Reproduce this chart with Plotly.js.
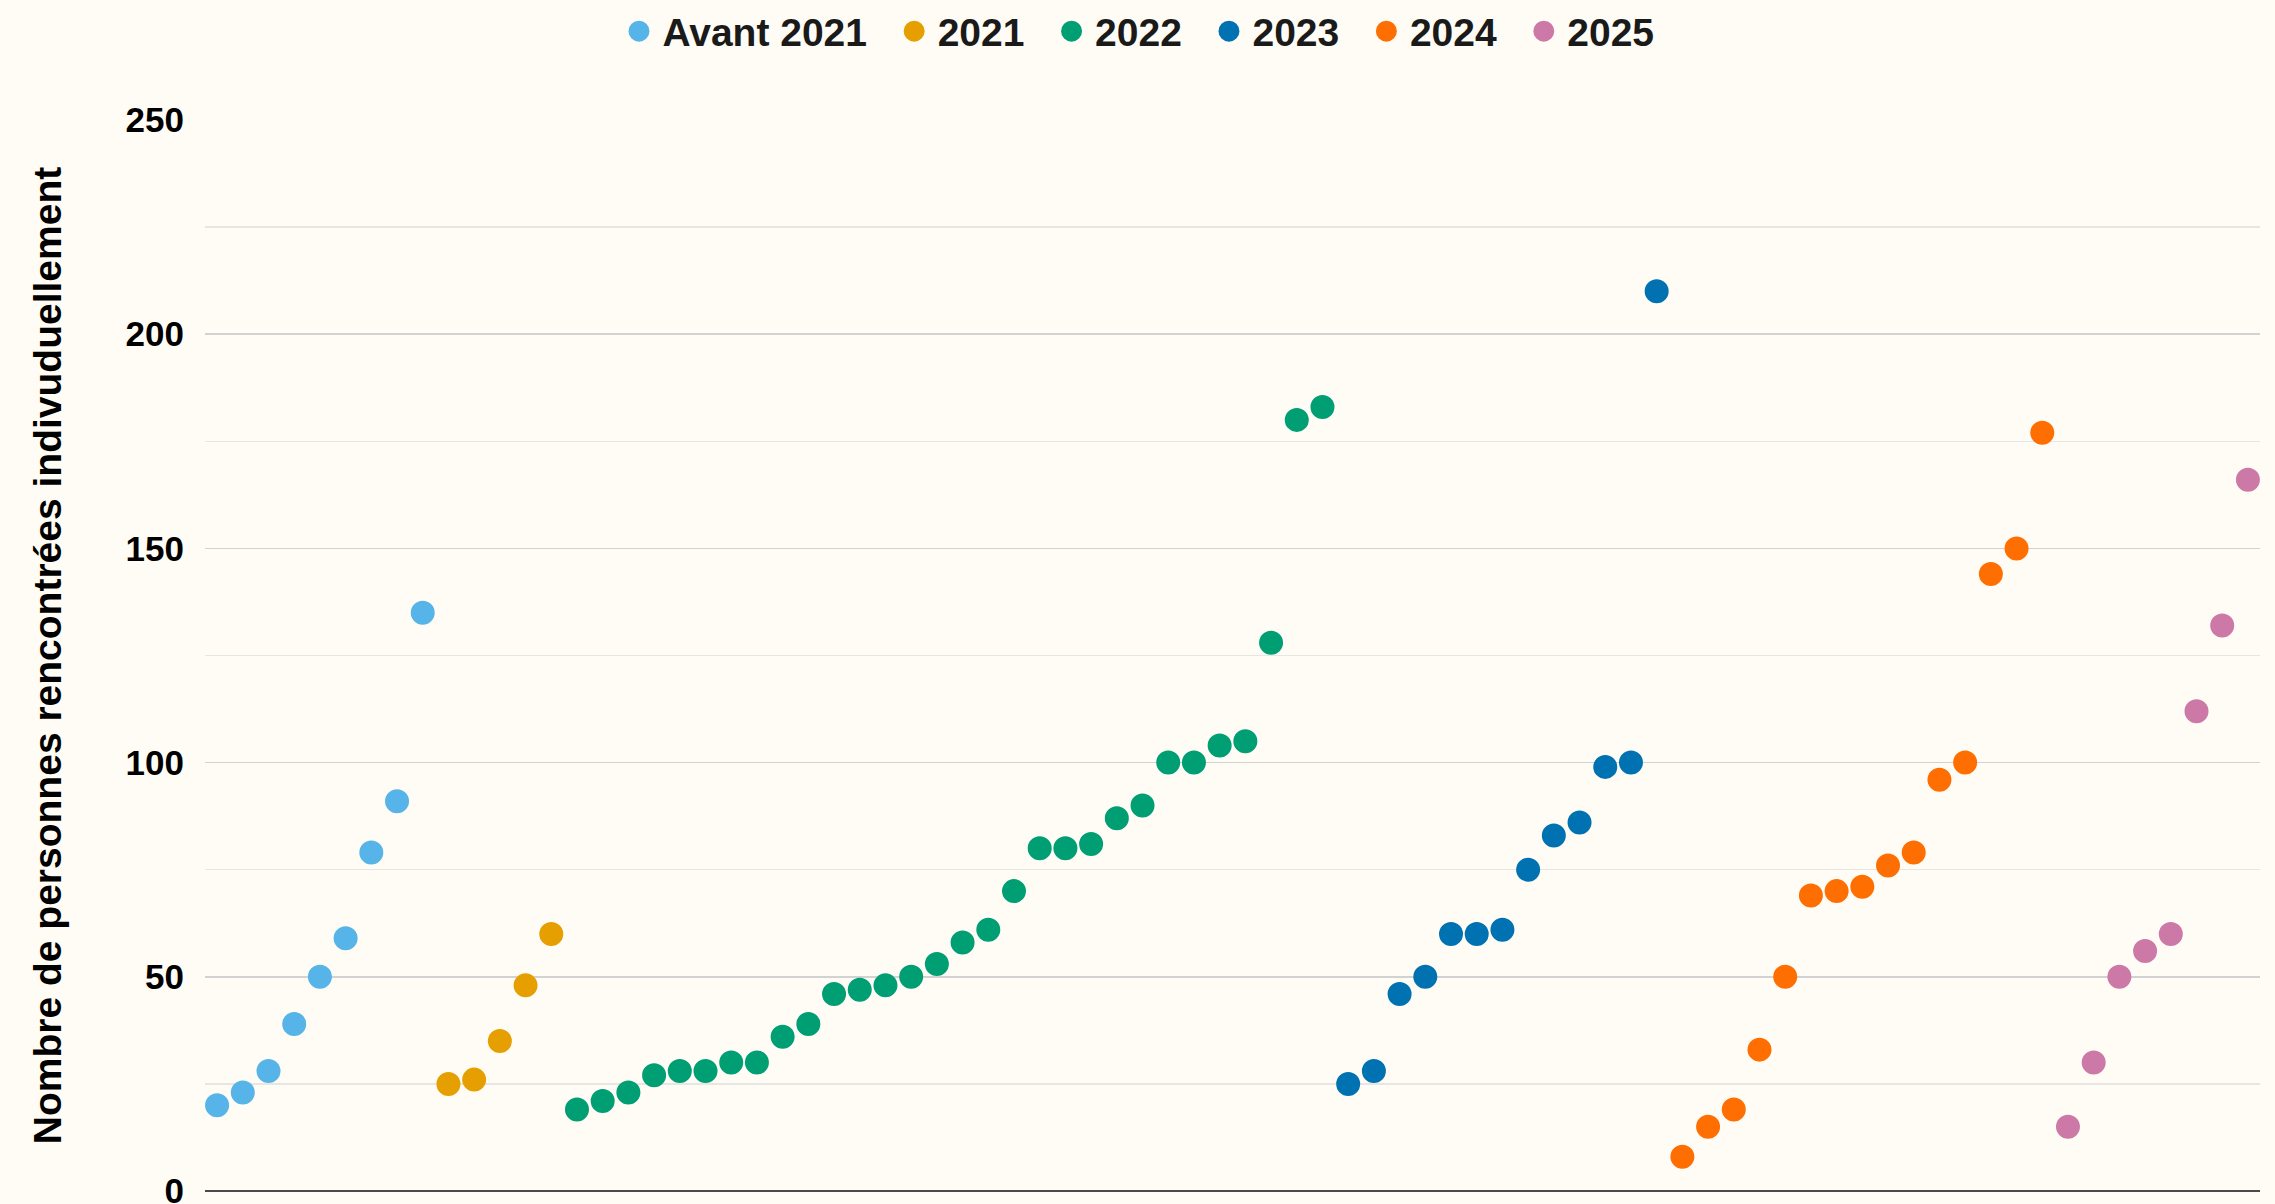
<!DOCTYPE html>
<html>
<head>
<meta charset="utf-8">
<script src="https://cdn.plot.ly/plotly-3.0.1.min.js"></script>
<style>
  html, body { margin: 0; padding: 0; background: #fffcf5; }
  #chart { width: 2275px; height: 1204px; }
</style>
</head>
<body>
<div id="chart"></div>
<script>
// Series (groups) and their values, in display order
const seriesNames = ["Avant 2021", "2021", "2022", "2023", "2024", "2025"];
const avant2021 = [20, 23, 28, 39, 50, 59, 79, 91, 135];
const y2021 = [25, 26, 35, 48, 60];
const y2022 = [19, 21, 23, 27, 28, 28, 30, 30, 36, 39, 46, 47, 48, 50, 53, 58, 61, 70, 80, 80, 81, 87, 90, 100, 100, 104, 105, 128, 180, 183];
const y2023 = [25, 28, 46, 50, 60, 60, 61, 75, 83, 86, 99, 100, 210];
const y2024 = [8, 15, 19, 33, 50, 69, 70, 71, 76, 79, 96, 100, 144, 150, 177];
const y2025 = [15, 30, 50, 56, 60, 112, 132, 166];
const seriesColors = ["#56B4E9", "#E69F00", "#009E73", "#0072B2", "#FF6E00", "#CC79A7"];
const yTickVals = [0, 50, 100, 150, 200, 250];
const yTitle = "Nombre de personnes rencontrées indivuduellement";

const allSeries = [avant2021, y2021, y2022, y2023, y2024, y2025];
const isLast = (i) => i === allSeries.length - 1;
let offset = 0;
const traces = allSeries.map((vals, i) => {
  const xs = vals.map((_, j) => offset + j);
  offset += vals.length;
  return {
    type: "scatter",
    mode: "markers",
    name: seriesNames[i] + (isLast(i) ? "" : "\u00a0\u2009"),
    x: xs,
    y: vals,
    marker: { color: seriesColors[i], size: 19, line: { width: 5, color: seriesColors[i] } },
    hoverinfo: "y+name"
  };
});
const total = offset;

const layout = {
  width: 2275,
  height: 1204,
  paper_bgcolor: "#fffcf5",
  plot_bgcolor: "#fffcf5",
  margin: { l: 205, r: 15, t: 120, b: 13, pad: 0 },
  font: { family: "Liberation Sans, Arial, sans-serif", color: "#000" },
  showlegend: true,
  legend: {
    orientation: "h",
    xref: "container",
    yref: "container",
    x: 0.5,
    xanchor: "center",
    y: 0.974,
    yanchor: "middle",
    font: { size: 39, color: "#1a1a1a", family: "Liberation Sans, Arial, sans-serif", weight: "bold" },
    itemsizing: "trace",
    itemwidth: 37,
    bgcolor: "rgba(0,0,0,0)",
    traceorder: "normal"
  },
  xaxis: {
    range: [-0.47, total - 1 + 0.47],
    showgrid: false,
    zeroline: false,
    showticklabels: false,
    ticks: "",
    showline: false,
    fixedrange: true
  },
  yaxis: {
    range: [0, 250],
    tickvals: yTickVals,
    ticktext: yTickVals.map(String),
    tickfont: { size: 35, color: "#000", family: "Liberation Sans, Arial, sans-serif", weight: "bold" },
    ticks: "",
    ticklabelstandoff: 20,
    ticklabeloverflow: "allow",
    showgrid: true,
    gridcolor: "#d2d2d2",
    gridwidth: 1.5,
    minor: { dtick: 25, tick0: 0, showgrid: true, gridcolor: "#e8e6e2", gridwidth: 1.5 },
    zeroline: true,
    zerolinecolor: "#4a4a4a",
    zerolinewidth: 2,
    showline: false,
    title: {
      text: yTitle,
      font: { size: 39, color: "#000", family: "Liberation Sans, Arial, sans-serif", weight: "bold" },
      standoff: 51
    },
    fixedrange: true
  }
};

Plotly.newPlot("chart", traces, layout, { displayModeBar: false, staticPlot: true });
</script>
</body>
</html>
